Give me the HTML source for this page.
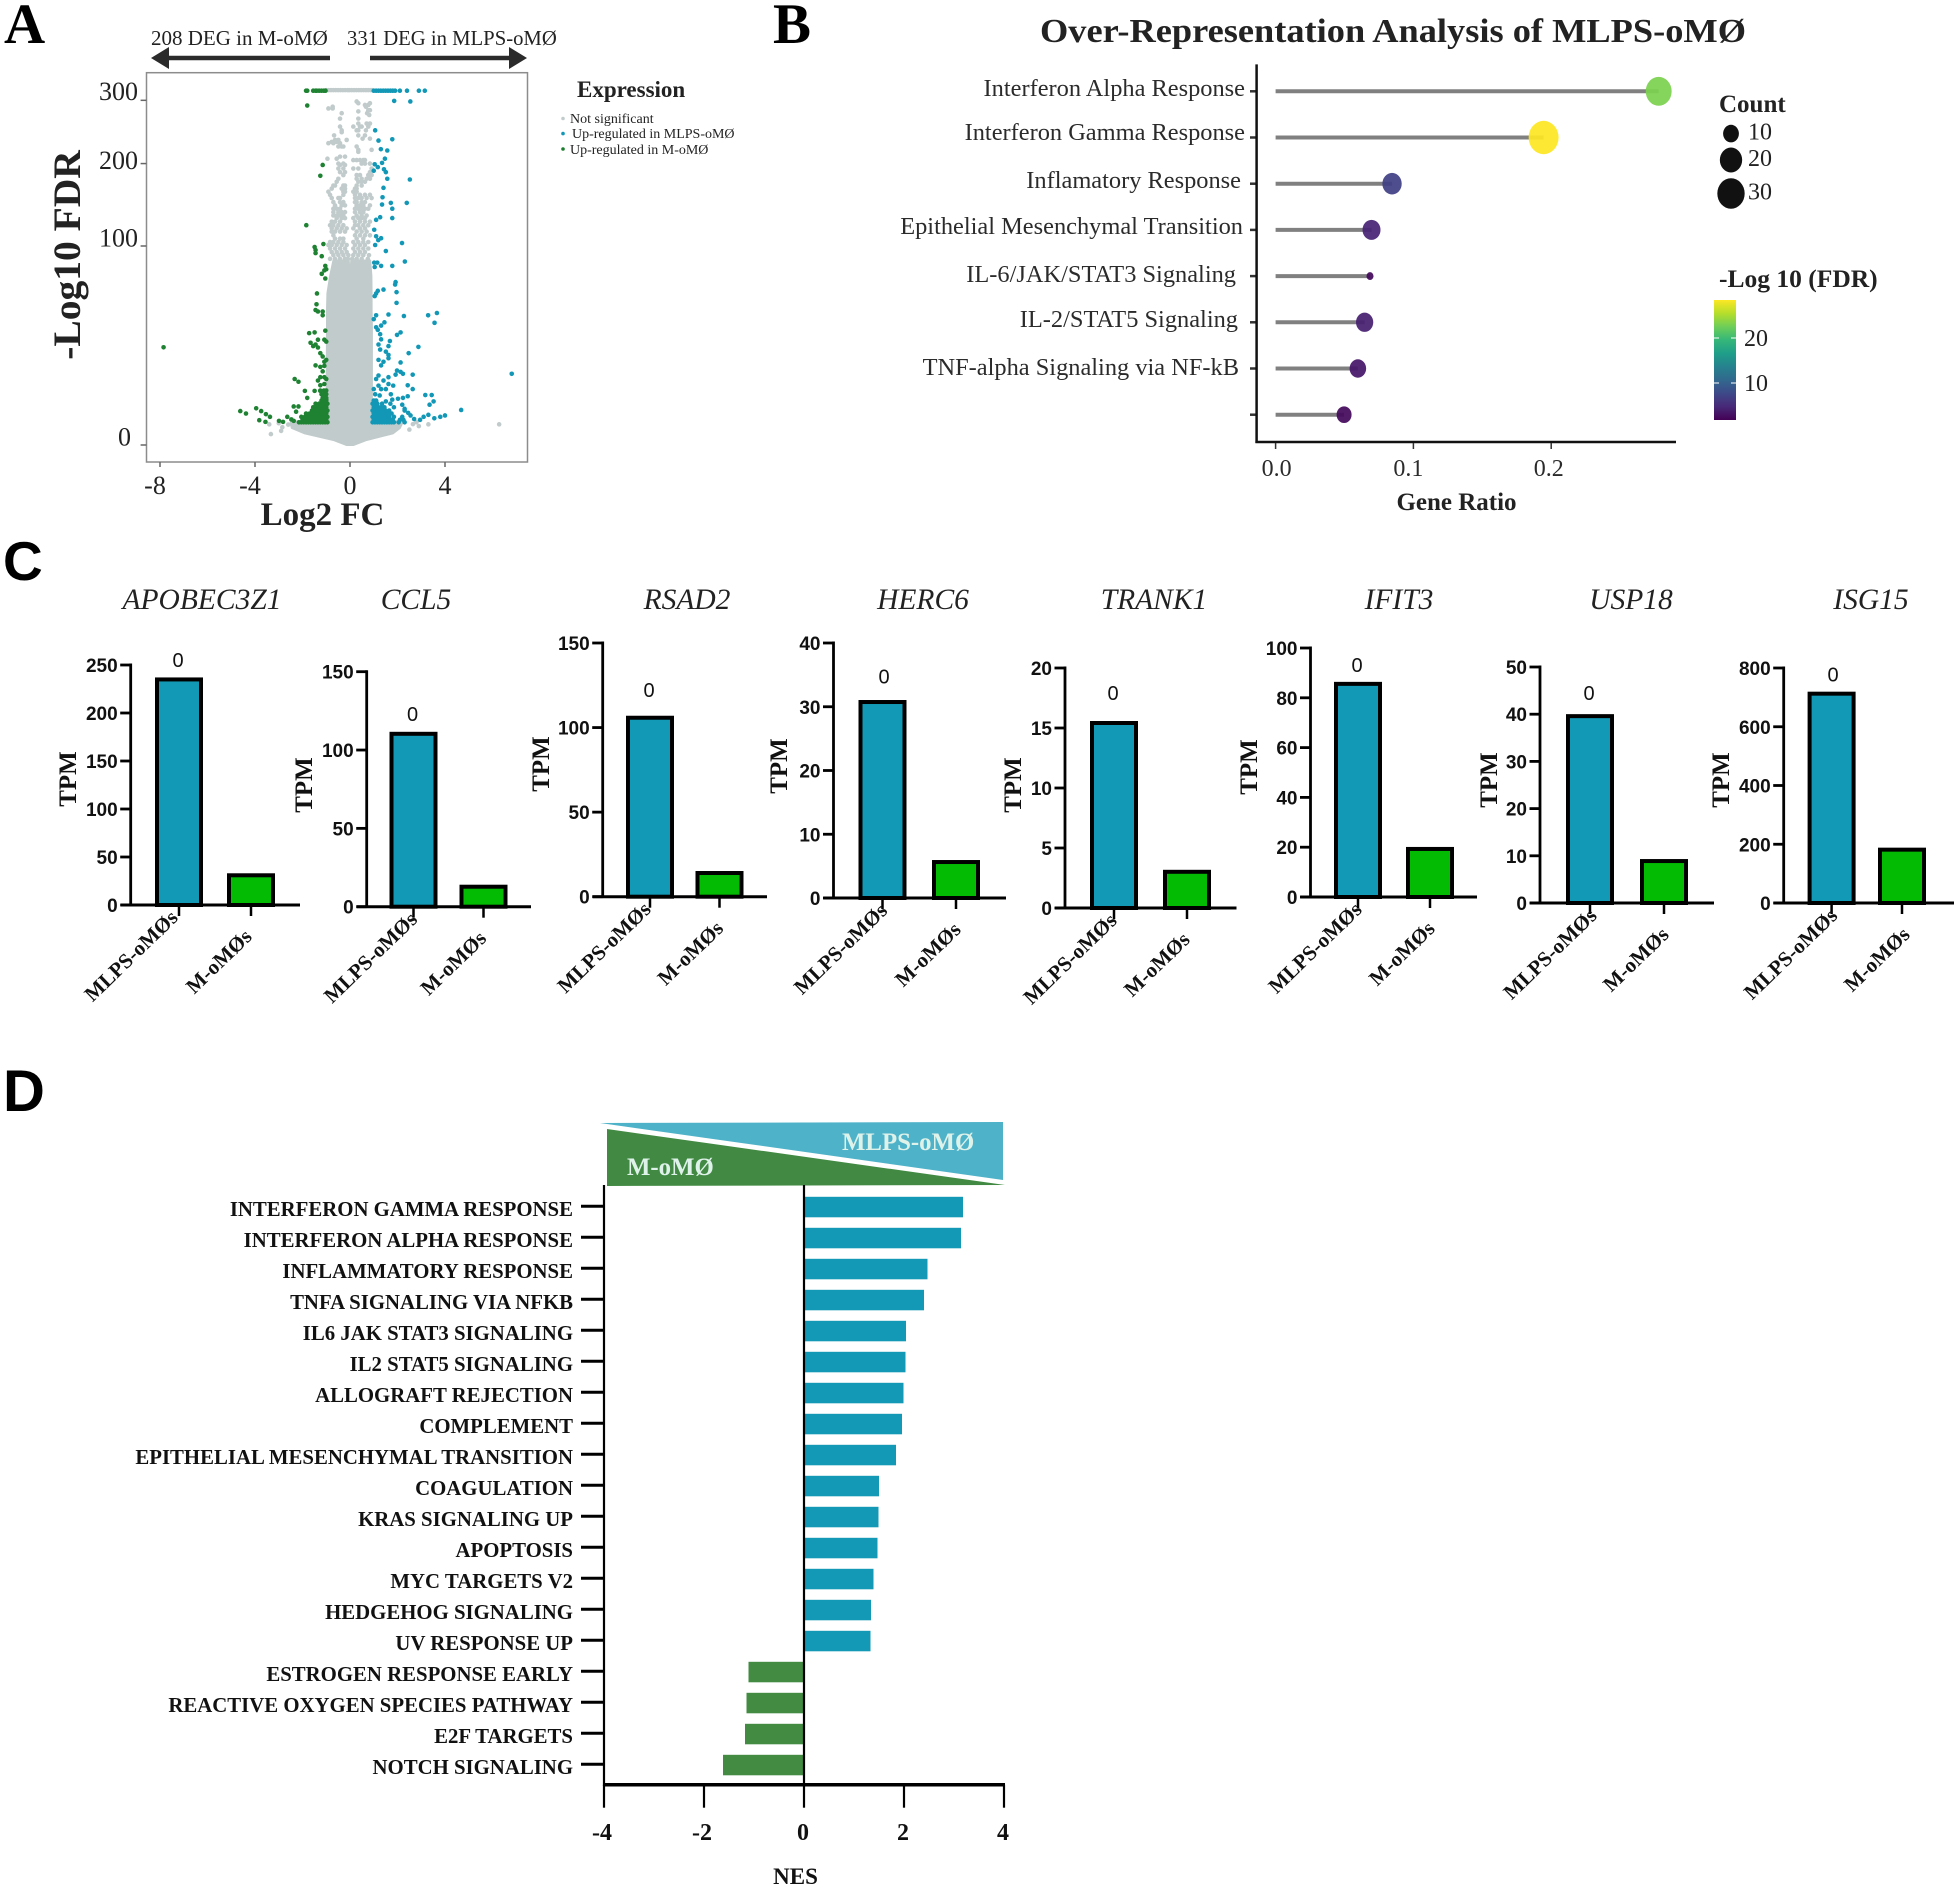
<!DOCTYPE html>
<html lang="en">
<head>
<meta charset="utf-8">
<title>Multi-panel transcriptomics figure</title>
<style>
html,body{margin:0;padding:0;background:#fff;}
svg{display:block;}
text{font-family:"Liberation Serif",serif;}
.sans{font-family:"Liberation Sans",sans-serif;}
</style>
</head>
<body>
<svg id="figure" xmlns="http://www.w3.org/2000/svg" width="1954" height="1888" viewBox="0 0 1954 1888">
  <defs>
    <linearGradient id="viridis-gradient" x1="0" y1="1" x2="0" y2="0"></linearGradient>
  </defs>
  <rect width="1954" height="1888" fill="#fff"/>

  <!-- Panel letters -->
  <text x="4" y="43" font-size="57" font-weight="bold">A</text>
  <text x="773" y="43" font-size="57" font-weight="bold">B</text>
  <text class="sans" x="3" y="580" font-size="55" font-weight="bold">C</text>
  <text class="sans" x="3" y="1111" font-size="58" font-weight="bold">D</text>

  <!-- Panel A static parts -->
  <g id="panel-a">
    <text x="151" y="45" font-size="21" fill="#222">208 DEG in M-oMØ</text>
    <text x="347" y="45" font-size="20.7" fill="#222">331 DEG in MLPS-oMØ</text>
    <path d="M151 58 L169 47 L169 55.8 L330 55.8 L330 60.2 L169 60.2 L169 69 Z" fill="#2b2b2b"/>
    <path d="M527 58 L509 47 L509 55.8 L370 55.8 L370 60.2 L509 60.2 L509 69 Z" fill="#2b2b2b"/>
    <rect x="146.5" y="72.7" width="381" height="389.3" fill="#fff" stroke="#8c8c8c" stroke-width="1.5"/>
    <g id="volcano-marks"></g>
    <g id="volcano-axes"></g>
    <text transform="translate(80 255) rotate(-90)" text-anchor="middle" font-size="39.5" font-weight="bold" fill="#222">-Log10 FDR</text>
    <text x="322.5" y="525" text-anchor="middle" font-size="33" font-weight="bold" fill="#222">Log2 FC</text>
    <text x="577" y="97" font-size="23" font-weight="bold" fill="#222">Expression</text>
    <circle cx="563" cy="118.5" r="1.8" fill="#c2cccc"/>
    <text x="570" y="123" font-size="14" fill="#222">Not significant</text>
    <circle cx="563" cy="133.6" r="1.8" fill="#1298b6"/>
    <text x="572" y="138" font-size="14" fill="#222">Up-regulated in MLPS-oMØ</text>
    <circle cx="563" cy="149" r="1.8" fill="#1b7d2e"/>
    <text x="570" y="154" font-size="14" fill="#222">Up-regulated in M-oMØ</text>
  </g>

  <!-- Panel B static parts -->
  <g id="panel-b">
    <text x="1040" y="42" font-size="34" font-weight="bold" fill="#222" textLength="706" lengthAdjust="spacingAndGlyphs">Over-Representation Analysis of MLPS-oMØ</text>
    <g id="ora-marks"></g>
    <text x="1456.5" y="510" text-anchor="middle" font-size="25" font-weight="bold" fill="#222">Gene Ratio</text>
    <text x="1719" y="112" font-size="25" font-weight="bold" fill="#222">Count</text>
    <text x="1719" y="287" font-size="25.5" font-weight="bold" fill="#222">-Log 10 (FDR)</text>
    <rect x="1714" y="300" width="22" height="120" fill="url(#viridis-gradient)"/>
    <g id="ora-legend"></g>
  </g>

  <!-- Panel C -->
  <g id="panel-c"></g>

  <!-- Panel D static parts -->
  <g id="panel-d">
    <path d="M600 1123 L1003 1122 L1003 1180 Z" fill="#4eb2c9"/>
    <path d="M607 1129 L607 1186 L1005 1185 Z" fill="#428a43"/>
    <text x="842" y="1150" font-size="24.8" font-weight="bold" fill="#dff2ea">MLPS-oMØ</text>
    <text x="627" y="1175" font-size="24.8" font-weight="bold" fill="#dff2ea">M-oMØ</text>
    <g id="nes-marks"></g>
    <text x="795.5" y="1884" text-anchor="middle" font-size="23" font-weight="bold" fill="#111">NES</text>
  </g>
</svg>

<script>
/* ---------- Panel A data (log2 FC, -log10 FDR) ---------- */
const volcanoYTicks = [0, 100, 200, 300];
const volcanoXTicks = [-8, -4, 0, 4];
const massFdr = [0, 0.063, 0.34, 0.73, 1.22, 1.4, 1.5, 10, 35, 46, 58, 72, 86];
const massLeft = [-0.15, -0.7, -1.9, -2.45, -2.5, -2.4, -1, -0.98, -0.97, -0.97, -0.95, -0.84, -0.7];
const massRight = [0.15, 0.7, 1.8, 2.1, 2.2, 2.2, 0.92, 0.92, 0.92, 0.91, 0.91, 0.9, 0.85];
const notchFdr = [46, 58, 72, 86];
const notchLeft = [0, -0.01, -0.02, -0.05];
const notchRight = [0, 0.01, 0.02, 0.05];
const grayRowFdr = [318,298,295,292,289,286,283,281,278,275,269,261,256,250,247,242,237,235,232,230,225,220,217,210,207,205,200,198,193,188,184,179,175,170,166,162,158,154,149,145,141,137,133,130,126,122,118.5,115,111,107.5,104,101,97.5,94,91,87.5];
const grayRowFc = [
 [-1,-0.9,-0.8,-0.7,-0.6,-0.5,-0.4,-0.3,-0.2,-0.1,-0.03,0.07,0.17,0.27,0.37,0.47,0.57,0.67,0.77,0.87,0.93],
 [0.28],[0.84,0.35],[0.63,0.77],[-0.73,0.67],[-0.91,-0.73],[0.84,0.77],[0.35],[-0.35,0.72],[0.81],[-0.42,0.35],
 [0.84,0.35,0.70],[-0.42,0.14,0.42,0.49,0.77],[-0.35,0.28,0.35,0.67],[-0.35],[-0.67,0.35,0.63],[0.53,0.84],
 [-0.14,-0.49,-0.63],[-0.77,-0.56],[-0.91,-0.70,-0.42],[-0.35,-0.28,-0.49,0.28],[0.91,0.35],[0.35],[-0.42,-0.21],
 [-0.95,-0.56],[0.14,0.28,0.42,0.56,0.63],[-0.49,-0.28,0.49,0.63,0.84],[-0.42,-0.21],[-0.49,-0.28,0.14,0.35,0.91],
 [-0.42,-0.21,0.84],[-0.28,0.28,0.42,0.77,0.91],[-0.49,0.28,0.49,0.70,0.84],[-0.56,0.35,0.49,0.63],
 [-0.70,-0.63,-0.28,-0.21,0.28,0.49],[-0.77,-0.35,-0.21,0.21,0.28],[-0.91,-0.28,-0.21,0.14,0.28],
 [-0.84,-0.28,0.21,0.42,0.63,0.84],[-0.77,-0.49,-0.42,0.21,0.35,0.49,0.70,0.91],[-0.70,-0.42,-0.28,0.21,0.28,0.49,0.63],
 [-0.63,-0.35,-0.21,0.28,0.42,0.56,0.84],[-0.70,-0.56,-0.42,0.21,0.35,0.49,0.63,0.77],[-0.70,-0.49,-0.35,-0.21,0.21,0.42,0.56],
 [-0.70,-0.56,-0.42,-0.28,0.28,0.49,0.70],[-0.56,-0.35,-0.21,0.14,0.35,0.49,0.63],[-0.77,-0.63,-0.42,0.21,0.42,0.63,0.84],
 [-0.84,-0.70,-0.49,-0.28,0.21,0.35,0.56,0.77],[-0.77,-0.56,-0.35,-0.14,0.14,0.42,0.63],[-0.77,-0.63,-0.42,-0.21,0.28,0.49,0.70],
 [-0.70,0.21,0.42,0.63,0.84],[-0.63,-0.42,-0.28,0.28,0.56],[-0.84,-0.70,-0.49,-0.28,0.14,0.35,0.56,0.77],
 [-0.91,-0.77,-0.56,-0.35,-0.14,0.21,0.42,0.63],[-0.84,-0.63,-0.42,-0.21,0.14,0.35,0.56,0.77],[-0.77,-0.56,-0.35,-0.14,0.21,0.42,0.63],
 [-0.70,-0.49,-0.28,-0.07,0.14,0.35,0.56,0.8],[-0.84,-0.63,-0.42,-0.21,-0.09,0.09,0.28,0.49,0.75]
];
const grayOutliers = [[6.28,1.08],[-3.33,0.3],[-3.4,1.08],[3.3,1.08],[2.65,1.1],[-2.6,1.05],[2.9,0.9],[-2.85,0.8],[-2.9,0.5],[2.5,0.6],[-3,1.2],[2.8,1.3]];
const upMlpsPoints = [
 [1,317],[1.1,317],[1.2,317],[1.3,317],[1.4,317],[1.5,317],[1.6,317],[1.7,317],[1.8,317],[1.9,317],[2.1,317],[2.4,317],[2.9,317],[3.15,317],
 [1.86,299],[2.54,298],[1.06,250],[1.78,236],[1.2,234],[1.3,221],[1.57,219],[1.47,207],[1.35,201],[1.04,199],[1.17,195],[1.43,192],[1,190],[1.51,188],
 [1.57,179],[2.52,178],[1.41,167],[1.37,155],[1.72,148],[2.39,148],[1.78,141],[1.35,146],[1.27,131],[1.1,128],[1.78,130],[1.02,117],[1.1,110],[1.31,108],
 [1.19,106],[2.19,103],[1.06,101],[1.51,95],[2.31,85],[1.02,84],[1.15,84],[1.31,81],[1.78,81],[1.04,80],[1.92,67],[1.9,65],[1.17,60],[1.41,61],[1.96,59],
 [1.04,56],[1.1,58],[1.96,51],[3.66,44],[3.29,42.5],[2.27,42],[1.62,43],[1.1,42.5],[1,40],[3.56,37.7],[1.45,38],[1.31,36],[1.1,35],[1.17,33.5],[2.13,32],
 [1.98,30.6],[1.27,31],[1.31,28.2],[1.2,25.5],[1.68,27.3],[2.88,24.3],[1.62,24.7],[1.27,23],[1.51,22],[2.47,21.3],[1.62,20.5],[1.2,18.3],[1.41,17.5],[1.62,19],
 [2.13,17.2],[1.31,16],[1.98,14],[2.13,13.5],[1.92,12.5],[2.23,12.8],[2.64,12.5],[1.2,12.2],[1.62,11.6],[1.1,11],[6.81,12.8],[1.41,10.5],[1.62,9.4],[1.2,8.9],
 [1.82,8.9],[1,7.9],[1.31,7.9],[1.51,7.9],[2.43,9],[3.17,6.3],[3.44,6.3],[1.06,6.5],[1.25,6.2],[1.72,6.5],[2.64,7.9],[2.23,5.6],[2.43,6],[2.02,5.4],[1.78,5.2],
 [1.51,4.8],[3.52,4.8],[3.35,4.1],[4.68,3.1],[1.1,4.8],[2.2,4.1],[2.3,3.3],[2.45,2.6],[2.55,2.2],[2.7,1.7],[2.95,1.6],[3.1,2],[3.3,2.3],[3.55,1.8],[3.8,2],[4,2.2]
];
const mlpsBlockFdr = [1.3,1.6,2,2.5,3,3.6,4.3,5];
const mlpsBlockFc = [
 [0.95,1.05,1.15,1.25,1.35,1.45,1.55,1.65,1.75,1.85,2.05,2.3],
 [1,1.1,1.2,1.3,1.4,1.5,1.6,1.7,1.8,2.1,2.25],
 [0.95,1.05,1.15,1.25,1.35,1.45,1.55,1.65,1.85,2.2],
 [1,1.1,1.2,1.3,1.4,1.5,1.6,1.75],
 [0.95,1.05,1.15,1.25,1.35,1.5,1.65,2.3],
 [1,1.1,1.2,1.3,1.45,1.85],
 [0.95,1.05,1.15,1.35,1.7],
 [1,1.1]
];
const upMoPoints = [
 [-1.85,317],[-1.8,317],[-1.55,317],[-1.45,317],[-1.4,317],[-1.3,317],[-1.2,317],[-1.1,317],[-1.03,317],
 [-1.8,291],[-1.15,198],[-1.25,183],[-1.84,122],[-1.49,99],[-1.45,96],[-1.12,102],[-1.45,93],[-1.19,90],[-1.04,81],[-1,78],[-1.08,77],[-1.19,74],[-1.04,70],
 [-1.39,58],[-1.41,50],[-1.45,46],[-1.15,45],[-1.35,45],[-1.15,42.5],[-1.72,31.6],[-1.49,32],[-1.04,33],[-1.08,28],[-1.35,28],[-1,27],[-1.66,26.4],[-1.45,25.5],
 [-1.35,24],[-1.55,24.7],[-1.25,21.3],[-1.15,19.8],[-7.85,24.1],[-1.08,17.5],[-1,18.3],[-1.45,16],[-1.25,15.4],[-1.08,15.8],[-1.15,13.7],[-2.33,11],[-2.17,10.1],
 [-1.25,11.6],[-1.08,11.6],[-1.35,10.5],[-1,11],[-1.08,9.4],[-1.25,9],[-1.9,7.4],[-1.49,7.4],[-1.25,7.4],[-1.04,7.4],[-1.8,5.6],[-1.15,5.6],[-1,5.2],
 [-4.62,2.9],[-4.38,2.5],[-3.95,3.4],[-3.74,2.9],[-3.54,2.4],[-3.37,2],[-3.82,1.55],[-3.56,1.35],[-2.99,1.47],[-2.82,1.35],[-2.37,3.75],[-2.17,3.75],[-2.27,2.8],
 [-2.64,2],[-2.47,1.65],[-2.37,1.47]
];
const moBlockFdr = [1.3,1.6,2,2.5,3,3.6,4.3,5,5.6,6.5,7.5];
const moBlockFc = [
 [-0.95,-1.05,-1.15,-1.25,-1.35,-1.45,-1.55,-1.65,-1.75,-1.85,-1.95,-2.05,-2.15],
 [-1,-1.1,-1.2,-1.3,-1.4,-1.5,-1.6,-1.7,-1.8,-1.9,-2],
 [-0.95,-1.05,-1.15,-1.25,-1.35,-1.45,-1.55,-1.65,-1.75,-1.9,-2.05],
 [-1,-1.1,-1.2,-1.3,-1.4,-1.5,-1.6,-1.7,-1.85],
 [-0.95,-1.05,-1.15,-1.25,-1.35,-1.45,-1.6],
 [-1,-1.1,-1.2,-1.3,-1.4,-1.55],
 [-0.95,-1.05,-1.15,-1.3,-1.45],
 [-1,-1.1,-1.2],
 [-1,-1.1],
 [-1,-1.1,-1.2],
 [-1,-1.1,-1.25]
];

/* ---------- Panel B data ---------- */
const pathwayNames = ["Interferon Alpha Response","Interferon Gamma Response","Inflamatory Response","Epithelial Mesenchymal Transition","IL-6/JAK/STAT3 Signaling","IL-2/STAT5 Signaling","TNF-alpha Signaling via NF-kB",""];
const geneRatios = [0.278,0.1945,0.0845,0.0696,0.0685,0.0646,0.0597,0.0497];
const geneCounts = [27,36,15,13,2,12,11,9];
const fdrValues = [23.3,28.7,7,4.5,2.5,4.2,3.5,2.5];
const ratioTicks = [0,0.1,0.2];
const ratioTickLabels = ["0.0","0.1","0.2"];
const countLegendValues = [10,20,30];
const colorbarTicks = [10,20];
const viridisStops = ['#440154','#482878','#3e4989','#31688e','#26828e','#1f9e89','#35b779','#6ece58','#b5de2b','#fde725'];

/* ---------- Panel C data ---------- */
const geneNames = ["APOBEC3Z1","CCL5","RSAD2","HERC6","TRANK1","IFIT3","USP18","ISG15"];
const mlpsTpm = [236,111,106.4,30.9,15.5,86,39.8,716];
const moTpm = [32,13.4,14.6,5.8,3.1,19.7,9.1,185];
const tpmTicks = [
 [0,50,100,150,200,250],[0,50,100,150],[0,50,100,150],[0,10,20,30,40],
 [0,5,10,15,20],[0,20,40,60,80,100],[0,10,20,30,40,50],[0,200,400,600,800]
];
const sampleLabels = ["MLPS-oMØs","M-oMØs"];
const significanceLabel = "0";
/* layout of each small multiple (pixels, not data) */
const chartAxisX = [130.7,366.7,602.7,833.5,1065,1310.5,1540,1783.7];
const chartZeroY = [905,906.7,896.7,898,908,897,903,903];
const chartTopY = [665,671.7,643,643,668,648,667,668];
const chartEndX = [300,531,767,1006,1236.5,1477,1714,1954];
const chartBarAX = [179,413.5,650,882.5,1114,1358,1590,1831.6];
const chartBarBX = [251,483.5,719.5,956,1187,1430,1664,1902];
const chartTitleX = [202,416,687,923,1154,1399,1631,1871];
const chartTpmX = [67,303,540,778,1012,1248,1488,1720];
const chartTpmY = [779,785,764,766,785,767,780,780];
const chartZeroLabelX = [178,412.5,649,884,1113,1357,1589,1833];
const chartZeroLabelY = [660,714,690,676.7,693,665,693,674.3];
const sampleLabelShiftA = [0,5,2,6,4,5,8,7];
const sampleLabelShiftB = [2,4,5,6,4,6,6,9];

/* ---------- Panel D data ---------- */
const hallmarkSets = ["INTERFERON GAMMA RESPONSE","INTERFERON ALPHA RESPONSE","INFLAMMATORY RESPONSE","TNFA SIGNALING VIA NFKB","IL6 JAK STAT3 SIGNALING","IL2 STAT5 SIGNALING","ALLOGRAFT REJECTION","COMPLEMENT","EPITHELIAL MESENCHYMAL TRANSITION","COAGULATION","KRAS SIGNALING UP","APOPTOSIS","MYC TARGETS V2","HEDGEHOG SIGNALING","UV RESPONSE UP","ESTROGEN RESPONSE EARLY","REACTIVE OXYGEN SPECIES PATHWAY","E2F TARGETS","NOTCH SIGNALING"];
const nesValues = [3.18,3.14,2.47,2.40,2.04,2.03,1.99,1.96,1.84,1.50,1.49,1.47,1.39,1.34,1.33,-1.11,-1.15,-1.18,-1.62];
const nesTicks = [-4,-2,0,2,4];

/* ---------- helpers ---------- */
const NS = 'http://www.w3.org/2000/svg';
function mk(tag, attrs, parent, content) {
  const el = document.createElementNS(NS, tag);
  for (const k in attrs) el.setAttribute(k, attrs[k]);
  if (content !== undefined) el.textContent = content;
  parent.appendChild(el);
  return el;
}
const $ = id => document.getElementById(id);

/* ---------- Panel A ---------- */
const volX = v => 350 + 23.75 * v;
const volY = v => 445 - 19.9 * Math.sqrt(v);
const volMarks = $('volcano-marks');
const volAxes = $('volcano-axes');
const GRAY = '#c1cbcb';
const DOT_R = 2.3;
{
  let d = '';
  massFdr.forEach((f, i) => { d += (i ? 'L' : 'M') + volX(massLeft[i]).toFixed(1) + ' ' + volY(f).toFixed(1) + ' '; });
  for (let i = notchFdr.length - 1; i >= 0; i--) d += 'L' + volX(notchLeft[i]).toFixed(1) + ' ' + volY(notchFdr[i]).toFixed(1) + ' ';
  notchFdr.forEach((f, i) => { d += 'L' + volX(notchRight[i]).toFixed(1) + ' ' + volY(f).toFixed(1) + ' '; });
  for (let i = massFdr.length - 1; i >= 0; i--) d += 'L' + volX(massRight[i]).toFixed(1) + ' ' + volY(massFdr[i]).toFixed(1) + ' ';
  const mass = mk('path', { d: d + 'Z', fill: GRAY, stroke: GRAY, 'stroke-width': 2, 'stroke-linejoin': 'round' }, volMarks);
  
  
}
grayRowFdr.forEach((f, i) => {
  grayRowFc[i].forEach(fc => {
    const p = mk('circle', { cx: volX(fc), cy: volY(f), r: DOT_R, fill: GRAY }, volMarks);
    
    
  });
});
grayOutliers.forEach(pt => {
  const p = mk('circle', { cx: volX(pt[0]), cy: volY(pt[1]), r: DOT_R, fill: GRAY }, volMarks);
  
  
});
upMlpsPoints.forEach(pt => {
  const p = mk('circle', { cx: volX(pt[0]), cy: volY(pt[1]), r: DOT_R, fill: '#1298b6' }, volMarks);
  
  
});
mlpsBlockFdr.forEach((f, i) => {
  mlpsBlockFc[i].forEach(fc => {
    const p = mk('circle', { cx: volX(fc), cy: volY(f), r: DOT_R, fill: '#1298b6' }, volMarks);
    
    
  });
});
upMoPoints.forEach(pt => {
  const p = mk('circle', { cx: volX(pt[0]), cy: volY(pt[1]), r: DOT_R, fill: '#1e8232' }, volMarks);
  
  
});
moBlockFdr.forEach((f, i) => {
  moBlockFc[i].forEach(fc => {
    const p = mk('circle', { cx: volX(fc), cy: volY(f), r: DOT_R, fill: '#1e8232' }, volMarks);
    
    
  });
});
const volLabelShiftX = [-7, 0, 0, 0];
const volLabelShiftY = [0.5, 0.5, 5.5, -0.5];
volcanoYTicks.forEach((v, i) => {
  const t = mk('line', { x1: 140.6, x2: 146.4, y1: volY(v), y2: volY(v), stroke: '#666', 'stroke-width': 1.5 }, volAxes);
  
  
  const l = mk('text', { x: 138 + volLabelShiftX[i], y: volY(v) + volLabelShiftY[i], 'text-anchor': 'end', 'font-size': 26, fill: '#222' }, volAxes, String(v));
  
  
});
volcanoXTicks.forEach(v => {
  const t = mk('line', { x1: volX(v), x2: volX(v), y1: 462, y2: 467, stroke: '#666', 'stroke-width': 1.5 }, volAxes);
  
  
  const l = mk('text', { x: volX(v) - (v < 0 ? 5 : 0), y: 494, 'text-anchor': 'middle', 'font-size': 26, fill: '#222' }, volAxes, String(v));
  
  
});

/* ---------- Panel B ---------- */
const ratioX = v => 1275.6 + 1378 * v;
const rowY = i => 91.3 + 46.2 * i;
const sizeR = c => 2.6 * Math.sqrt(c);
const fdrT = v => (v - 1.8) / 26.9;
const fdrBarY = v => 383 - (v - 10) * 4.5;
function viridis(t) {
  t = Math.max(0, Math.min(1, t)) * (viridisStops.length - 1);
  const i = Math.min(Math.floor(t), viridisStops.length - 2), f = t - i;
  const a = parseInt(viridisStops[i].slice(1), 16), b = parseInt(viridisStops[i + 1].slice(1), 16);
  const mix = s => Math.round(((a >> s) & 255) * (1 - f) + ((b >> s) & 255) * f);
  return 'rgb(' + mix(16) + ',' + mix(8) + ',' + mix(0) + ')';
}
viridisStops.forEach((c, i) => mk('stop', { offset: i / (viridisStops.length - 1), 'stop-color': c }, $('viridis-gradient')));
const oraMarks = $('ora-marks');
const oraLabelEnds = [1245,1245,1241,1243,1236,1238,1239,1244];
const oraLabelCenters = [89,133,181,227,275,320,368,415];
pathwayNames.forEach((name, i) => {
  const y = rowY(i);
  const tick = mk('line', { x1: 1250, x2: 1256, y1: y, y2: y, stroke: '#333', 'stroke-width': 2.5 }, oraMarks);
  
  
  if (name) {
    const lab = mk('text', { x: oraLabelEnds[i], y: oraLabelCenters[i] + 7, 'text-anchor': 'end', 'font-size': 24.4, fill: '#2b2b2b' }, oraMarks, name);
    
    
  }
  const stem = mk('line', { x1: ratioX(0), x2: ratioX(geneRatios[i]), y1: y, y2: y, stroke: '#808080', 'stroke-width': 4 }, oraMarks);
  
  
  const dot = mk('ellipse', { cx: ratioX(geneRatios[i]), cy: y, rx: 0.96 * sizeR(geneCounts[i]), ry: 1.07 * sizeR(geneCounts[i]), fill: viridis(fdrT(fdrValues[i])), opacity: 0.93 }, oraMarks);
  
  
});
{
  const yAxis = mk('line', { x1: 1256.6, x2: 1256.6, y1: 64.4, y2: 443, stroke: '#111', 'stroke-width': 2.5 }, oraMarks);
  
  
  const xAxis = mk('line', { x1: 1255.4, x2: 1676, y1: 442, y2: 442, stroke: '#111', 'stroke-width': 2.5 }, oraMarks);
  
  
}
const ratioLabelShift = [1, -5, -2.5];
ratioTicks.forEach((v, i) => {
  const t = mk('line', { x1: ratioX(v), x2: ratioX(v), y1: 443, y2: 449, stroke: '#333', 'stroke-width': 1.5 }, oraMarks);
  
  
  const l = mk('text', { x: ratioX(v) + ratioLabelShift[i], y: 476, 'text-anchor': 'middle', 'font-size': 24, fill: '#2b2b2b' }, oraMarks, ratioTickLabels[i]);
  
  
});
const oraLegend = $('ora-legend');
const countLegendY = [133.6, 160, 193.5];
countLegendValues.forEach((c, i) => {
  const d = mk('ellipse', { cx: 1731, cy: countLegendY[i], rx: 0.96 * sizeR(c), ry: 1.07 * sizeR(c), fill: '#111' }, oraLegend);
  
  
  const l = mk('text', { x: 1748, y: countLegendY[i] + 6, 'font-size': 24, fill: '#222' }, oraLegend, String(c));
  
  
});
colorbarTicks.forEach(v => {
  const y = fdrBarY(v);
  const a = mk('line', { x1: 1714, x2: 1719, y1: y, y2: y, stroke: '#fff', 'stroke-width': 1 }, oraLegend);
  
  
  const b = mk('line', { x1: 1731, x2: 1736, y1: y, y2: y, stroke: '#fff', 'stroke-width': 1 }, oraLegend);
  
  
  const l = mk('text', { x: 1744, y: y + 8, 'font-size': 24, fill: '#222' }, oraLegend, String(v));
  
  
});

/* ---------- Panel C ---------- */
const panelC = $('panel-c');
const sampleLabelDy = [14, 33];
geneNames.forEach((gene, c) => {
  const ticks = tpmTicks[c];
  const max = ticks[ticks.length - 1];
  const y0 = chartZeroY[c], yT = chartTopY[c], ax = chartAxisX[c];
  const yS = v => y0 - (y0 - yT) * v / max;
  const g = mk('g', {}, panelC);
  
  

  const title = mk('text', { x: chartTitleX[c], y: 609, 'text-anchor': 'middle', 'font-size': 29.5, 'font-style': 'italic', fill: '#222' }, g, gene);
  
  

  const tpm = mk('text', { transform: 'translate(' + (chartTpmX[c] + 9) + ' ' + chartTpmY[c] + ') rotate(-90)', 'text-anchor': 'middle', 'font-size': 25, 'font-weight': 'bold', fill: '#111' }, g, 'TPM');
  
  

  const values = [mlpsTpm[c], moTpm[c]];
  const centers = [chartBarAX[c], chartBarBX[c]];
  const shifts = [sampleLabelShiftA[c], sampleLabelShiftB[c]];
  const fills = ['#1299b5', '#02bb02'];
  values.forEach((v, i) => {
    const bar = mk('rect', { x: centers[i] - 22, y: yS(v) + 1, width: 44, height: y0 - yS(v) - 1, fill: fills[i], stroke: '#000', 'stroke-width': 4 }, g);
    
    
    const xt = mk('line', { x1: centers[i], x2: centers[i], y1: y0, y2: y0 + 11, stroke: '#000', 'stroke-width': 2.5 }, g);
    
    
    const xl = mk('text', { transform: 'translate(' + (centers[i] + shifts[i]) + ' ' + (y0 + sampleLabelDy[i]) + ') rotate(-44)', 'text-anchor': 'end', 'font-size': 21, 'font-weight': 'bold', fill: '#111' }, g, sampleLabels[i]);
    
    
  });
  const yAxis = mk('line', { x1: ax, x2: ax, y1: yT - 1.5, y2: y0, stroke: '#000', 'stroke-width': 2.8 }, g);
  
  
  const xAxis = mk('line', { x1: ax - 10, x2: chartEndX[c], y1: y0, y2: y0, stroke: '#000', 'stroke-width': 3 }, g);
  
  
  ticks.forEach(v => {
    const t = mk('line', { x1: ax - 10.5, x2: ax, y1: yS(v), y2: yS(v), stroke: '#000', 'stroke-width': 2.8 }, g);
    
    
    const l = mk('text', { class: 'sans', x: ax - 13, y: yS(v) + 7, 'text-anchor': 'end', 'font-size': 19, 'font-weight': 'bold', fill: '#111' }, g, String(v));
    
    
  });
  const sig = mk('text', { class: 'sans', x: chartZeroLabelX[c], y: chartZeroLabelY[c] + 7, 'text-anchor': 'middle', 'font-size': 20, fill: '#111' }, g, significanceLabel);
  
  
});

/* ---------- Panel D ---------- */
const nesX = v => 804 + 50 * v;
const nesRow = i => 1206.3 + 31 * i;
const nesMarks = $('nes-marks');
hallmarkSets.forEach((name, i) => {
  const y = nesRow(i), v = nesValues[i];
  const bar = mk('rect', { x: Math.min(nesX(0), nesX(v)), y: y - 9.5, width: Math.abs(nesX(v) - nesX(0)), height: 20.5, fill: v >= 0 ? '#1399b5' : '#438b42' }, nesMarks);
  
  
  const t = mk('line', { x1: 581, x2: 604, y1: y, y2: y, stroke: '#000', 'stroke-width': 3 }, nesMarks);
  
  
  const l = mk('text', { x: 573, y: y + 9.5, 'text-anchor': 'end', 'font-size': 20.8, 'font-weight': 'bold', fill: '#111' }, nesMarks, name);
  
  
});
{
  const yAxis = mk('line', { x1: 604, x2: 604, y1: 1185, y2: 1786, stroke: '#000', 'stroke-width': 2.2 }, nesMarks);
  
  
  const zero = mk('line', { x1: nesX(0), x2: nesX(0), y1: 1185, y2: 1786, stroke: '#000', 'stroke-width': 2.2 }, nesMarks);
  
  
  const xAxis = mk('line', { x1: 603, x2: 1005, y1: 1784.7, y2: 1784.7, stroke: '#000', 'stroke-width': 3.5 }, nesMarks);
  
  
}
nesTicks.forEach(v => {
  const t = mk('line', { x1: nesX(v), x2: nesX(v), y1: 1784.7, y2: 1807.7, stroke: '#000', 'stroke-width': 2.2 }, nesMarks);
  
  
  const l = mk('text', { x: nesX(v) - (v < 0 ? 1 : 0) - 1, y: 1840, 'text-anchor': 'middle', 'font-size': 24, 'font-weight': 'bold', fill: '#111' }, nesMarks, String(v));
  
  
});
</script>
</body>
</html>
